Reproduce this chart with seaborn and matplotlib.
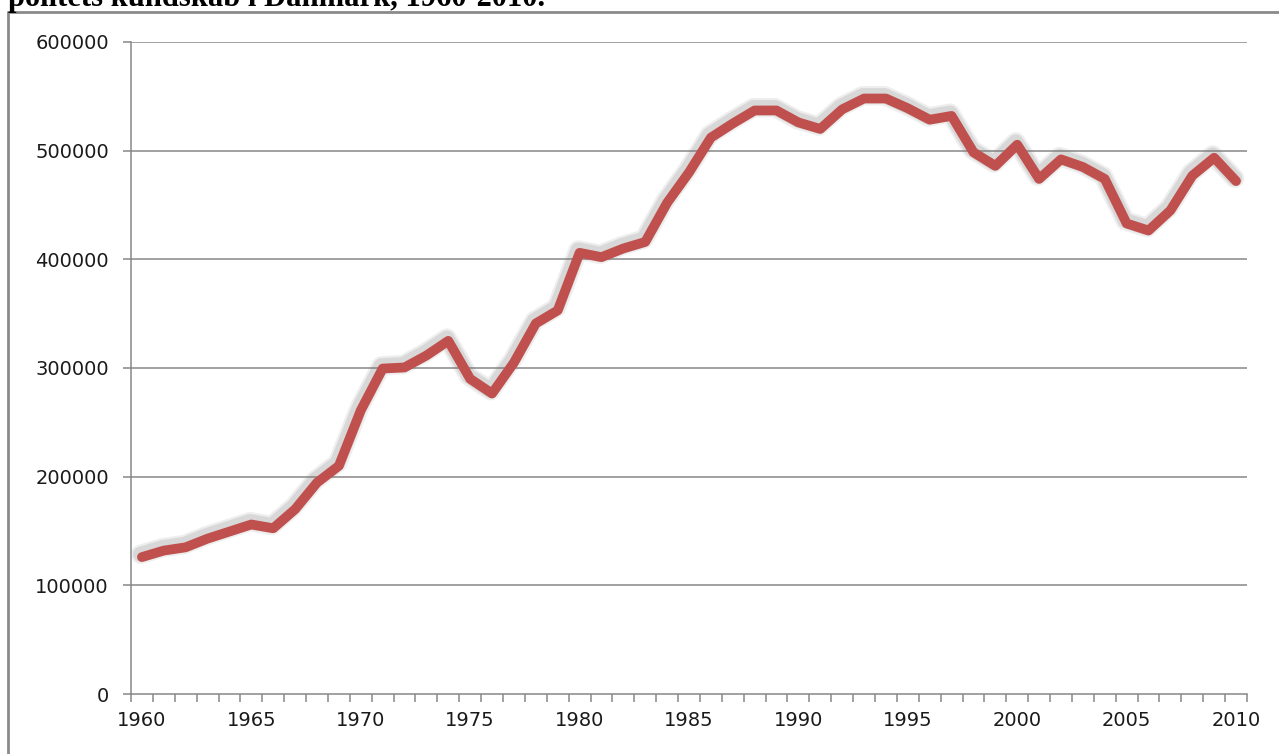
import numpy as np
import pandas as pd
import matplotlib
matplotlib.use("Agg")
import matplotlib.pyplot as plt
import matplotlib.patheffects as pe
from matplotlib.lines import Line2D
from matplotlib.ticker import FixedLocator
import seaborn as sns

# Data
years = list(range(1960, 2011))
values = [
    126000, 132000, 135000, 143000, 149500, 156000, 152500, 170000, 194500, 210000,
    261000, 299500, 300500, 311500, 325000, 290000, 276500, 305000, 341000, 353000,
    406000, 402000, 410000, 416000, 452000, 480000, 512000, 525000, 537000, 537000,
    526000, 520000, 538000, 548000, 548000, 539000, 528500, 532000, 498500, 486000,
    505500, 474000, 492000, 485000, 474000, 433000, 426500, 445000, 477000, 493500,
    472000,
]
year_labels = list(range(1960, 2011, 5))
y_ticks = [0, 100000, 200000, 300000, 400000, 500000, 600000]
title_text = "politets kundskab i Danmark, 1960-2010."

df = pd.DataFrame({"year": years, "value": values})

sns.set_style("white")
plt.rcParams["font.family"] = ["DejaVu Sans"]

W, H = 1279, 754
fig = plt.figure(figsize=(W / 100, H / 100), dpi=100)
ax = fig.add_axes([131 / W, (H - 694) / H, (1247 - 131) / W, (694 - 42) / H])

grid_col = "#878787"
line_col = "#C0504D"

# soft shadow: a few faint wider strokes behind the line
shadow = [
    pe.SimpleLineShadow(offset=(-1, 2), shadow_color="#777777", alpha=0.12, linewidth=14),
    pe.SimpleLineShadow(offset=(-1, 2), shadow_color="#777777", alpha=0.18, linewidth=11),
    pe.Normal(),
]
sns.lineplot(data=df, x="year", y="value", ax=ax, color=line_col, linewidth=7,
             solid_joinstyle="round", solid_capstyle="round", path_effects=shadow)

ax.set_xlim(1959.5, 2010.5)
ax.set_ylim(0, 600000)
ax.set_yticks(y_ticks)
ax.set_yticklabels([str(v) for v in y_ticks])
ax.set_xticks(year_labels)
ax.set_xticklabels([str(y) for y in year_labels])
ax.xaxis.set_minor_locator(FixedLocator(np.arange(1959.5, 2011, 1.0)))

for v in y_ticks[1:]:
    ax.axhline(v, color=grid_col, linewidth=1.1, zorder=0)

for s in ["top", "right"]:
    ax.spines[s].set_visible(False)
for s in ["left", "bottom"]:
    ax.spines[s].set_color(grid_col)
    ax.spines[s].set_linewidth(1.1)

ax.tick_params(axis="y", which="major", direction="out", length=6, width=1.1,
               color=grid_col, pad=10, labelsize=14, labelcolor="#1a1a1a", left=True)
ax.tick_params(axis="x", which="major", length=0, pad=12, labelsize=14, labelcolor="#1a1a1a")
ax.tick_params(axis="x", which="minor", direction="out", length=5.5, width=1.1,
               color=grid_col, bottom=True)
ax.set_xlabel("")
ax.set_ylabel("")

# outer chart frame and clipped caption above it
fig.add_artist(Line2D([7.5 / W, 7.5 / W], [0, 1 - 12 / H], transform=fig.transFigure,
                      color="#8a8a8a", linewidth=2))
fig.add_artist(Line2D([7.5 / W, 1], [1 - 12 / H, 1 - 12 / H], transform=fig.transFigure,
                      color="#8a8a8a", linewidth=2))
fig.text(8 / W, 1 - 6 / H, title_text, family="Liberation Serif", weight="bold",
         fontsize=22, va="baseline", ha="left", color="black")

fig.savefig("out.png", dpi=100, facecolor="white")
